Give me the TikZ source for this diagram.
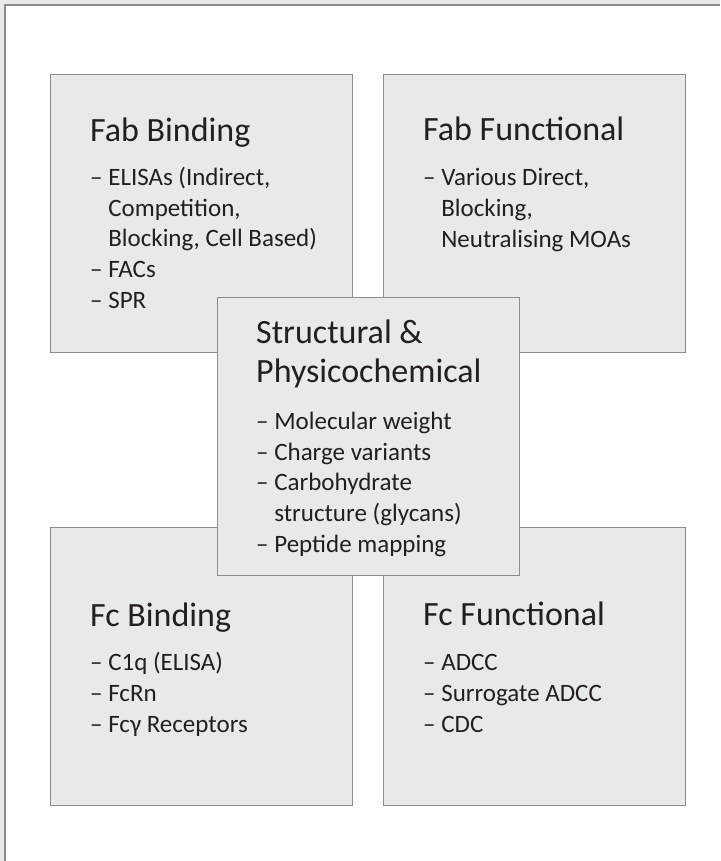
\documentclass[tikz,border=0pt]{standalone}
\usepackage{fontspec}
\setmainfont{Carlito}
\usepackage{tikz}
\usepackage{xcolor}
\definecolor{panelgray}{HTML}{E8E9EB}
\definecolor{edgegray}{HTML}{8C8C8C}
\definecolor{inkdark}{HTML}{231F20}
\newcommand{\itm}{–\ }
\newcommand{\cont}{\phantom{–\ }}

\begin{document}
\begin{tikzpicture}[x=1pt,y=-1pt,
  panel/.style={draw=edgegray,line width=1.2pt,fill=panelgray,minimum width=302pt,minimum height=278pt,anchor=north west,inner sep=0pt},
  heading/.style={anchor=base west,inner sep=0pt,text=inkdark,font=\fontsize{34}{39}\selectfont,align=left},
  items/.style={anchor=base west,inner sep=0pt,text=inkdark,font=\fontsize{25}{30.6}\selectfont,align=left}]
\useasboundingbox (0,0) rectangle (720,861);
\fill[white] (0,0) rectangle (720,861);
\fill[panelgray] (0,0) rectangle (720,5) (0,0) rectangle (5,861);
\draw[edgegray,line width=1.6pt] (5,861) -- (5,5) -- (720,5);
\node[panel] (fabbind) at (50,74) {};
\node[panel] (fabfunc) at (383,74) {};
\node[panel] (fcbind) at (50,527) {};
\node[panel] (fcfunc) at (383,527) {};
\node[panel] (struct) at (217,297) {};
% multi-line texts sit on their last baseline
\node[heading] (fabbindhead) at (90,142) {Fab Binding};
\node[items] (fabbindlist) at (90,308) {\itm ELISAs (Indirect,\\ \cont Competition,\\ \cont Blocking, Cell Based)\\ \itm FACs\\ \itm SPR};
\node[heading] (fabfunchead) at (423,141) {Fab Functional};
\node[items] (fabfunclist) at (423,247) {\itm Various Direct,\\ \cont Blocking,\\ \cont Neutralising MOAs};
\node[heading] (structhead) at (256,382) {Structural \&\\ Physicochemical};
\node[items] (structlist) at (256,552) {\itm Molecular weight\\ \itm Charge variants\\ \itm Carbohydrate\\ \cont structure (glycans)\\ \itm Peptide mapping};
\node[heading] (fcbindhead) at (90,626) {Fc Binding};
\node[items] (fcbindlist) at (90,732) {\itm C1q (ELISA)\\ \itm FcRn\\ \itm Fcγ Receptors};
\node[heading] (fcfunchead) at (423,625) {Fc Functional};
\node[items] (fcfunclist) at (423,732) {\itm ADCC\\ \itm Surrogate ADCC\\ \itm CDC};
\end{tikzpicture}
\end{document}
